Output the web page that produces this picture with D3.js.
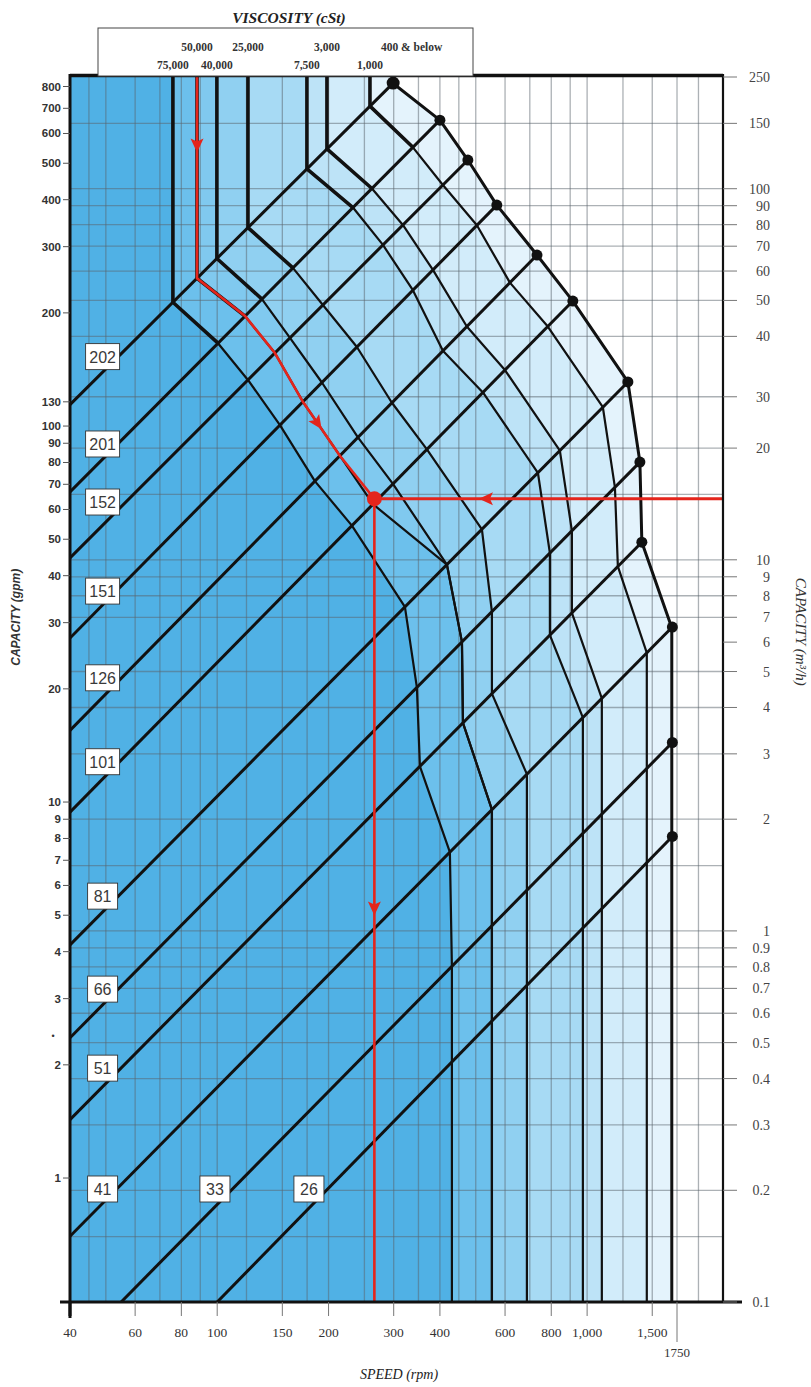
<!DOCTYPE html>
<html>
<head>
<meta charset="utf-8">
<script src="https://cdn.jsdelivr.net/npm/d3@7"></script>
<style>
  body { margin: 0; background: #fff; }
  svg { display: block; }
</style>
</head>
<body>
<svg id="chart"></svg>
<script>
// ---- axis ticks ----
const speedTicks = [40, 60, 80, 100, 150, 200, 300, 400, 600, 800, 1000, 1500];
const speedTickLabels = ["40", "60", "80", "100", "150", "200", "300", "400", "600", "800", "1,000", "1,500"];
const maxSpeed = 1750;
const gpmTicks = [800, 700, 600, 500, 400, 300, 200, 116, 100, 90, 80, 70, 60, 50, 40, 30, 20, 10, 9, 8, 7, 6, 5, 4, 3, 2, 1];
const gpmTickLabels = ["800", "700", "600", "500", "400", "300", "200", "130", "100", "90", "80", "70", "60", "50", "40", "30", "20", "10", "9", "8", "7", "6", "5", "4", "3", "2", "1"];
const m3hTicks = [250, 150, 100, 90, 80, 70, 60, 50, 40, 27.5, 20, 10, 9, 8, 7, 6, 5, 4, 3, 2, 1, 0.9, 0.8, 0.7, 0.6, 0.5, 0.4, 0.3, 0.2, 0.1];
const m3hTickLabels = ["250", "150", "100", "90", "80", "70", "60", "50", "40", "30", "20", "10", "9", "8", "7", "6", "5", "4", "3", "2", "1", "0.9", "0.8", "0.7", "0.6", "0.5", "0.4", "0.3", "0.2", "0.1"];

// ---- grid ----
const speedGrid = [45, 50, 60, 70, 80, 90, 100, 120, 150, 175, 200, 250, 300, 350, 400, 450, 500, 600, 700, 800, 900, 1000, 1250, 1500, 1750, 2000];
const m3hGrid = [150, 100, 90, 80, 70, 60, 50, 40, 27.5, 20, 15, 10, 9, 8, 7, 5, 4, 3, 2, 1.5, 1, 0.9, 0.8, 0.7, 0.6, 0.5, 0.4, 0.3, 0.2, 0.15];

// ---- pump lines (rpm, gpm) ----
const pumpNames = ["202", "201", "152", "151", "126", "101", "81", "66", "51", "41", "33", "26"];
const pumpFrom = [[40, 114], [40, 66.8], [40, 44.6], [40, 27.3], [40, 15.5], [40, 9.4], [40, 4.17], [40, 2.36], [40, 1.43], [40, 0.70], [55, 0.468], [100, 0.468]];
const pumpTo = [[299, 817], [400, 651], [476, 510], [570, 387], [732, 285], [915, 215], [1289, 131], [1389, 80.2], [1406, 49.1], [1700, 29.2], [1700, 14.4], [1700, 8.1]];
const pumpLabelAt = [[49, 153], [49, 89.6], [49, 62.8], [49, 36.4], [49, 21.4], [49, 12.8], [49, 5.62], [49, 3.18], [49, 1.96], [49, 0.935], [98.6, 0.935], [177, 0.935]];

// ---- viscosity curves: top speed, then speed where each pump line is crossed (202 ... 26) ----
const viscLabels = ["75,000", "50,000", "40,000", "25,000", "7,500", "3,000", "1,000", "400 & below"];
const viscTop = [75.9, 88.2, 99.8, 121.1, 174.8, 198, 258.8, 298.6];
const viscCross = [
  [75.9, 100.5, 121.1, 147.8, 183.7, 231.3, 321.7, 346.6, 353.2, 425.6, 431, 431],
  [88.2, 118.9, 143.2, 170.5, 214.6, 263.7, 417.8, 458.8, 461.7, 552.9, 552.9, 552.9],
  [99.8, 132.1, 157.3, 191.9, 240.1, 298.6, 417.8, 458.8, 461.7, 552.9, 552.9, 552.9],
  [121.1, 160.2, 193.1, 238.6, 296.7, 368.9, 519.5, 552.9, 552.9, 687.4, 687.4, 687.4],
  [174.8, 232.8, 280.6, 338.1, 407.5, 522.8, 736.2, 793.2, 793.2, 974, 974, 974],
  [198, 262, 317.7, 383, 473, 599.6, 844, 909.6, 909.6, 1096, 1096, 1096],
  [258.8, 338.1, 407.5, 503.6, 618.4, 783, 1103, 1189, 1211, 1450, 1450, 1450],
  [298.6, 400, 476, 570, 732, 915, 1289, 1389, 1406, 1694, 1694, 1694]
];

// ---- worked example (red) ----
const exampleSpeed = 266;
const exampleM3h = 14.6;

// ---- layout ----
const W = 811, H = 1387;
const plotL = 70, plotR = 723, plotT = 77, plotB = 1302;
const bandColors = ["#50b1e5", "#6cc0ec", "#80c9ef", "#90d0f1", "#a7daf4", "#bde3f7", "#d2ecfa", "#e4f3fc"];
const red = "#e4251c";

const svg = d3.select("#chart").attr("width", W).attr("height", H)
  .style("font-family", "'Liberation Sans', Arial, sans-serif");

const x = d3.scaleLog().domain([40, 2330]).range([plotL, plotR]);
const yG = d3.scaleLog().domain([0.468, 848]).range([plotB, plotT]);
const yM = d3.scaleLog().domain([0.1, 200]).range([plotB, plotT]).clamp(true);
const gTop = yG.domain()[1], gBot = yG.domain()[0];

svg.append("defs").append("clipPath").attr("id", "clip")
  .append("rect").attr("x", plotL).attr("y", plotT).attr("width", plotR - plotL).attr("height", plotB - plotT);

function gpmOn(i, rpm) {
  const [r0, g0] = pumpFrom[i], [r1, g1] = pumpTo[i];
  const t = (Math.log(rpm) - Math.log(r0)) / (Math.log(r1) - Math.log(r0));
  return Math.exp(Math.log(g0) + t * (Math.log(g1) - Math.log(g0)));
}
function viscPath(k) {
  const pts = [[viscTop[k], gTop]];
  viscCross[k].forEach((r, i) => pts.push([r, gpmOn(i, r)]));
  pts.push([viscCross[k][viscCross[k].length - 1], gBot]);
  return pts;
}
const curves = viscTop.map((d, k) => viscPath(k));
const line = d3.line().x(d => x(d[0])).y(d => yG(d[1]));

const plot = svg.append("g").attr("clip-path", "url(#clip)");

// shaded viscosity bands
bandColors.forEach((c, k) => {
  const poly = k === 0 ? [[40, gTop], ...curves[0], [40, gBot]] : [...curves[k - 1], ...curves[k].slice().reverse()];
  plot.append("path").attr("d", line(poly) + "Z").attr("fill", c).attr("stroke", c).attr("stroke-width", 0.5);
});

// grid
plot.selectAll(".vgrid").data(speedGrid).join("line").attr("class", "vgrid")
  .attr("x1", d => x(d)).attr("x2", d => x(d)).attr("y1", plotT).attr("y2", plotB)
  .attr("stroke", "#59646b").attr("stroke-opacity", 0.5).attr("stroke-width", 1.3);
plot.selectAll(".hgrid").data(m3hGrid).join("line").attr("class", "hgrid")
  .attr("x1", plotL).attr("x2", plotR).attr("y1", d => yM(d)).attr("y2", d => yM(d))
  .attr("stroke", "#59646b").attr("stroke-opacity", 0.5).attr("stroke-width", 1.3);

// pump lines
pumpNames.forEach((n, i) => {
  plot.append("path").attr("d", line([pumpFrom[i], pumpTo[i]]))
    .attr("fill", "none").attr("stroke", "#111").attr("stroke-width", 3);
});

// viscosity curves
curves.forEach((pts, k) => {
  if (k === curves.length - 1) {
    plot.append("path").attr("d", line(pts)).attr("fill", "none").attr("stroke", "#111")
      .attr("stroke-width", 3).attr("stroke-linejoin", "round");
    return;
  }
  plot.append("path").attr("d", line(pts.slice(2))).attr("fill", "none").attr("stroke", "#111")
    .attr("stroke-width", 2.2).attr("stroke-linejoin", "round");
  plot.append("path").attr("d", line(pts.slice(0, 3))).attr("fill", "none").attr("stroke", "#111")
    .attr("stroke-width", 3.6).attr("stroke-linejoin", "round");
});

// red worked example
const ex = [x(exampleSpeed), yM(exampleM3h)];
const redPts = curves[1].slice(0, 6).map(p => [x(p[0]), yG(p[1])]).concat([ex]);
const redG = svg.append("g");
redG.append("path").attr("d", d3.line()(redPts)).attr("fill", "none").attr("stroke", red).attr("stroke-width", 2.6);
redG.append("line").attr("x1", plotR).attr("x2", ex[0]).attr("y1", ex[1]).attr("y2", ex[1]).attr("stroke", red).attr("stroke-width", 3);
redG.append("line").attr("x1", ex[0]).attr("x2", ex[0]).attr("y1", ex[1]).attr("y2", plotB).attr("stroke", red).attr("stroke-width", 2.6);
function arrow(a, b, t) {
  const px = a[0] + (b[0] - a[0]) * t, py = a[1] + (b[1] - a[1]) * t;
  const ang = Math.atan2(b[1] - a[1], b[0] - a[0]) * 180 / Math.PI;
  redG.append("path").attr("d", "M7,0 L-7,-6.5 L-4,0 L-7,6.5 Z")
    .attr("transform", `translate(${px},${py}) rotate(${ang})`).attr("fill", red);
}
arrow(redPts[0], redPts[1], 0.34);
arrow(redPts[4], redPts[5], 0.4);
arrow([plotR, ex[1]], ex, 0.68);
arrow(ex, [ex[0], plotB], 0.51);
redG.append("circle").attr("cx", ex[0]).attr("cy", ex[1]).attr("r", 7.5).attr("fill", red);

// end dots
pumpTo.forEach((p, i) => {
  svg.append("circle").attr("cx", x(p[0])).attr("cy", yG(p[1])).attr("r", i === 0 ? 6.5 : 5.5).attr("fill", "#111");
});

// pump labels
pumpNames.forEach((n, i) => {
  const cx = x(pumpLabelAt[i][0]), cy = yG(pumpLabelAt[i][1]);
  const w = n.length > 2 ? 34 : 30;
  svg.append("rect").attr("x", cx - w / 2).attr("y", cy - 13).attr("width", w).attr("height", 26)
    .attr("fill", "#fff").attr("stroke", "#333").attr("stroke-width", 0.9);
  svg.append("text").attr("x", cx).attr("y", cy + 6).attr("text-anchor", "middle")
    .attr("font-size", 16).attr("fill", "#3a3a3a").text(n);
});

// frame
svg.append("line").attr("x1", plotL).attr("x2", plotR).attr("y1", plotT - 1.5).attr("y2", plotT - 1.5).attr("stroke", "#111").attr("stroke-width", 3.5);
svg.append("line").attr("x1", plotR).attr("x2", plotR).attr("y1", plotT - 3).attr("y2", plotB).attr("stroke", "#111").attr("stroke-width", 2.2);
svg.append("line").attr("x1", plotL).attr("x2", plotL).attr("y1", plotT - 3).attr("y2", plotB + 16).attr("stroke", "#111").attr("stroke-width", 3);
svg.append("line").attr("x1", plotL - 10).attr("x2", plotR + 19).attr("y1", plotB).attr("y2", plotB).attr("stroke", "#111").attr("stroke-width", 3);

// viscosity header box
svg.append("rect").attr("x", 98).attr("y", 28).attr("width", 375).attr("height", 48)
  .attr("fill", "#fff").attr("stroke", "#444").attr("stroke-width", 1);
svg.append("text").attr("x", 289).attr("y", 23).attr("text-anchor", "middle")
  .attr("font-family", "'Liberation Serif', serif").attr("font-style", "italic").attr("font-weight", "bold")
  .attr("font-size", 15.5).attr("fill", "#222").text("VISCOSITY (cSt)");
viscLabels.forEach((l, k) => {
  const upper = k % 2 === 1;
  const last = k === viscLabels.length - 1;
  svg.append("text").attr("x", x(viscTop[k]) + (last ? -12 : 0)).attr("y", upper ? 51 : 69)
    .attr("text-anchor", last ? "start" : "middle")
    .attr("font-family", "'Liberation Serif', serif").attr("font-weight", "bold")
    .attr("font-size", 11.5).attr("fill", "#333").text(l);
});

// left axis
gpmTicks.forEach((v, i) => {
  const yy = yG(v);
  svg.append("line").attr("x1", plotL - 7).attr("x2", plotL).attr("y1", yy).attr("y2", yy).attr("stroke", "#555").attr("stroke-width", 1);
  svg.append("text").attr("x", plotL - 9).attr("y", yy + 4).attr("text-anchor", "end")
    .attr("font-family", "'Liberation Sans Narrow', 'Liberation Sans', sans-serif").attr("font-weight", "bold")
    .attr("font-size", 11.5).attr("fill", "#333").text(gpmTickLabels[i]);
});
svg.append("text").attr("x", plotL - 17).attr("y", yG(2.4) + 4).attr("text-anchor", "middle")
  .attr("font-size", 9).attr("fill", "#333").text("•");
svg.append("text").attr("transform", `translate(20,${yG(31)}) rotate(-90)`).attr("text-anchor", "middle")
  .attr("font-family", "'Liberation Sans Narrow', 'Liberation Sans', sans-serif")
  .attr("font-style", "italic").attr("font-weight", "bold").attr("font-size", 12).attr("fill", "#333")
  .text("CAPACITY (gpm)");

// right axis
m3hTicks.forEach((v, i) => {
  const yy = yM(v);
  svg.append("line").attr("x1", plotR).attr("x2", plotR + 14).attr("y1", yy).attr("y2", yy).attr("stroke", "#777").attr("stroke-width", 1);
  svg.append("text").attr("x", 770).attr("y", yy + 5).attr("text-anchor", "end")
    .attr("font-family", "'Liberation Serif', serif").attr("font-size", 14).attr("fill", "#444").text(m3hTickLabels[i]);
});
svg.append("text").attr("transform", `translate(796,${yM(6.4)}) rotate(90)`).attr("text-anchor", "middle")
  .attr("font-family", "'Liberation Serif', serif").attr("font-style", "italic").attr("font-size", 15).attr("fill", "#333")
  .text("CAPACITY (m³/h)");

// bottom axis
speedTicks.forEach((v, i) => {
  const xx = x(v);
  svg.append("line").attr("x1", xx).attr("x2", xx).attr("y1", plotB).attr("y2", plotB + 14).attr("stroke", i === 0 ? "#111" : "#777").attr("stroke-width", i === 0 ? 3 : 1);
  svg.append("text").attr("x", xx).attr("y", plotB + 35).attr("text-anchor", "middle")
    .attr("font-family", "'Liberation Serif', serif").attr("font-size", 13.5).attr("fill", "#333").text(speedTickLabels[i]);
});
svg.append("line").attr("x1", x(maxSpeed)).attr("x2", x(maxSpeed)).attr("y1", plotB).attr("y2", plotB + 40).attr("stroke", "#777").attr("stroke-width", 1);
svg.append("text").attr("x", x(maxSpeed)).attr("y", plotB + 55).attr("text-anchor", "middle")
  .attr("font-family", "'Liberation Serif', serif").attr("font-size", 13).attr("fill", "#333").text("1750");
svg.append("text").attr("x", 399).attr("y", 1379).attr("text-anchor", "middle")
  .attr("font-family", "'Liberation Serif', serif").attr("font-style", "italic").attr("font-size", 14).attr("fill", "#222")
  .text("SPEED (rpm)");
</script>
</body>
</html>
